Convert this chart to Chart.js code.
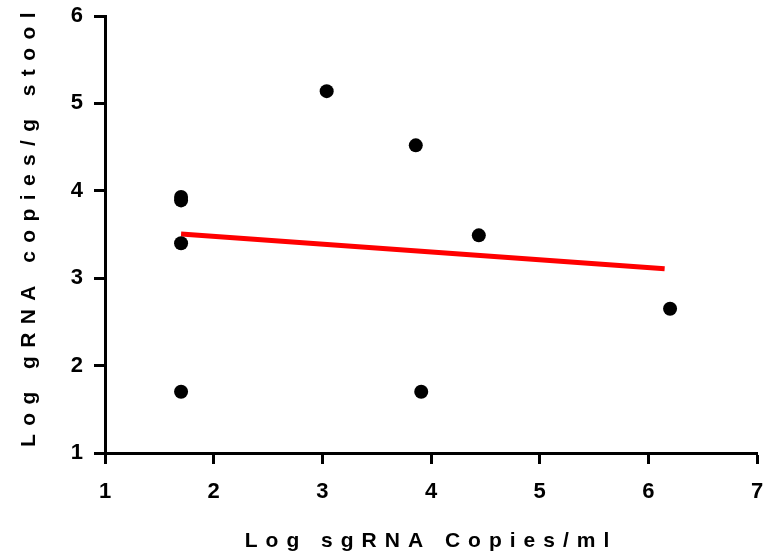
<!DOCTYPE html>
<html>
<head>
<meta charset="utf-8">
<script src="https://cdn.jsdelivr.net/npm/chart.js@4/dist/chart.umd.min.js"></script>
<style>
  html, body { margin: 0; padding: 0; background: #fff; }
  #wrap { width: 765px; height: 559px; }
</style>
</head>
<body>
<div id="wrap"><canvas id="grafico"></canvas></div>
<script>
// valores
const sgRNA = [1.70, 1.70, 1.70, 1.70, 3.04, 3.86, 4.44, 3.91, 6.20];
const gRNA = [3.93, 3.89, 3.40, 1.70, 5.14, 4.52, 3.49, 1.70, 2.65];
const retaX = [1.70, 6.15];
const retaY = [3.505, 3.108];
const ticksX = [1, 2, 3, 4, 5, 6, 7];
const ticksY = [1, 2, 3, 4, 5, 6];

const tituloX = 'Log sgRNA Copies/ml';
const tituloY = 'Log gRNA copies/g stool';

Chart.defaults.font.family = '"Liberation Sans", Arial, sans-serif';
Chart.defaults.font.weight = 'bold';
Chart.defaults.color = '#000';

// espaçamento entre letras só nos títulos dos eixos (o do eixo y fica um pouco mais acima)
const desenhaTituloOriginal = Chart.LinearScale.prototype.drawTitle;
Chart.LinearScale.prototype.drawTitle = function () {
    const ctx = this.ctx;
    ctx.save();
    ctx.letterSpacing = this.axis === 'y' ? '8.4px' : '8px';
    if (this.axis === 'y') ctx.translate(0, -9);
    desenhaTituloOriginal.call(this);
    ctx.restore();
};

const eixoComum = {
    type: 'linear',
    border: { display: true, color: '#000', width: 3 },
    grid: { drawOnChartArea: false, drawTicks: true, tickLength: 11, tickWidth: 3, tickColor: '#000' },
};

new Chart(document.getElementById('grafico').getContext('2d'), {
    type: 'scatter',
    data: {
        datasets: [
            {
                label: 'amostras',
                data: sgRNA.map((x, i) => ({ x, y: gRNA[i] })),
                backgroundColor: '#000',
                borderWidth: 0,
                pointRadius: 7,
                pointHoverRadius: 7
            },
            {
                type: 'line',
                label: 'regressão',
                data: retaX.map((x, i) => ({ x, y: retaY[i] })),
                borderColor: '#ff0000',
                borderWidth: 5,
                pointRadius: 0,
                fill: false
            }
        ]
    },
    options: {
        responsive: true,
        maintainAspectRatio: false,
        animation: false,
        layout: { padding: { top: 16, right: 8, bottom: 0, left: 0 } },
        plugins: { legend: { display: false }, tooltip: { enabled: false } },
        scales: {
            x: {
                ...eixoComum,
                min: 1, max: 7,
                afterFit: (s) => { s.height = 106; s.paddingLeft = 0; s.paddingRight = 0; },
                afterBuildTicks: (s) => { s.ticks = ticksX.map(v => ({ value: v })); },
                ticks: { font: { size: 22 }, padding: 15 },
                title: { display: true, text: tituloX, font: { size: 21 }, padding: { top: 0, bottom: 5 } }
            },
            y: {
                ...eixoComum,
                min: 1, max: 6,
                afterFit: (s) => { s.width = 105; s.paddingTop = 0; s.paddingBottom = 0; },
                afterBuildTicks: (s) => { s.ticks = ticksY.map(v => ({ value: v })); },
                ticks: { font: { size: 22 }, padding: 11 },
                title: { display: true, text: tituloY, font: { size: 21 }, padding: { top: 17, bottom: 0 } }
            }
        }
    }
});
</script>
</body>
</html>
